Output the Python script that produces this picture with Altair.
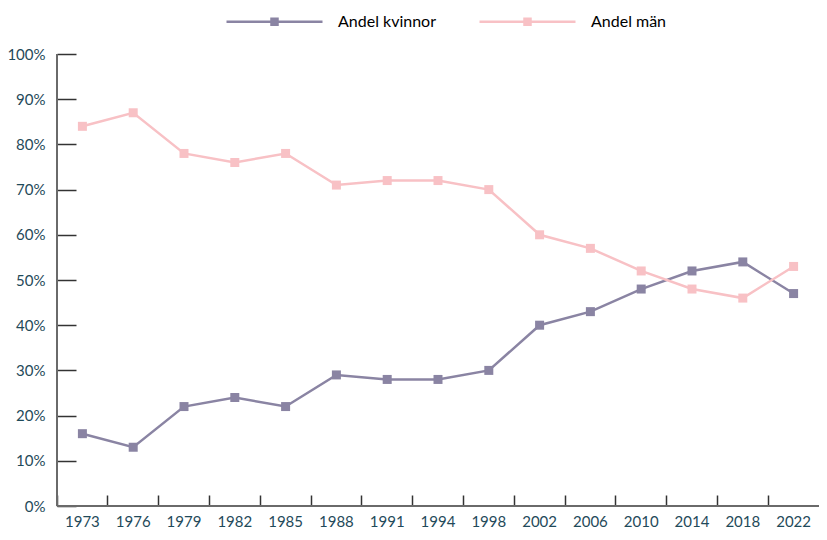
import altair as alt
import pandas as pd

years = ["1973", "1976", "1979", "1982", "1985", "1988", "1991", "1994",
         "1998", "2002", "2006", "2010", "2014", "2018", "2022"]
kvinnor = [16, 13, 22, 24, 22, 29, 28, 28, 30, 40, 43, 48, 52, 54, 47]
man = [84, 87, 78, 76, 78, 71, 72, 72, 70, 60, 57, 52, 48, 46, 53]
series_names = ["Andel kvinnor", "Andel män"]
series_colors = ["#8a84a3", "#f8c1c5"]
y_ticks = [0, 10, 20, 30, 40, 50, 60, 70, 80, 90, 100]

rows = []
for i, y in enumerate(years):
    rows.append({"year": y, "serie": series_names[0], "value": kvinnor[i]})
    rows.append({"year": y, "serie": series_names[1], "value": man[i]})
df = pd.DataFrame(rows)

W, H = 762, 452
FONT = "Lato"
LABEL_COLOR = "#1f4a5a"
AXIS_COLOR = "#6a6a6a"

x_enc = alt.X(
    "year:N",
    sort=years,
    title=None,
    bandPosition=0.5,
    scale=alt.Scale(type="band", paddingInner=0, paddingOuter=0),
    axis=alt.Axis(
        bandPosition=0,
        domain=False,
        offset=-11,
        tickSize=11,
        tickColor="#333333",
        tickWidth=1.5,
        labelPadding=8,
        labelAngle=0,
        labelFont=FONT,
        labelFontSize=15,
        labelColor=LABEL_COLOR,
        grid=False,
    ),
)
y_enc = alt.Y(
    "value:Q",
    title=None,
    scale=alt.Scale(domain=[0, 100], nice=False),
    axis=alt.Axis(
        values=y_ticks,
        labelExpr="datum.value + '%'",
        domain=False,
        offset=-19,
        tickSize=19,
        tickColor="#333333",
        tickWidth=1.5,
        labelPadding=12,
        labelFont=FONT,
        labelFontSize=15,
        labelColor=LABEL_COLOR,
        grid=False,
    ),
)

legend_symbol = "M-4.8,0H4.8M-0.3,-0.3H0.3V0.3H-0.3Z"

color_enc = alt.Color(
    "serie:N",
    sort=series_names,
    scale=alt.Scale(domain=series_names, range=series_colors),
    legend=alt.Legend(
        title=None,
        orient="none",
        direction="horizontal",
        legendX=168,
        legendY=-44,
        symbolType=legend_symbol,
        symbolSize=400,
        symbolStrokeWidth=2.5,
        symbolOffset=38,
        labelOffset=52,
        columnPadding=38,
        labelFont=FONT,
        labelFontSize=16,
        labelColor="#000000",
    ),
)

lines = alt.Chart(df).mark_line(strokeWidth=2.5).encode(
    x=x_enc, y=y_enc, color=color_enc
)
points = alt.Chart(df).mark_point(shape="square", filled=True, size=81, opacity=1).encode(
    x=x_enc, y=y_enc, color=alt.Color("serie:N", sort=series_names,
                                      scale=alt.Scale(domain=series_names, range=series_colors),
                                      legend=None)
)

base0 = pd.DataFrame({"v": [0], "top": [100]})
bottom_rule = alt.Chart(base0).mark_rule(color=AXIS_COLOR, strokeWidth=2).encode(
    y=alt.Y("v:Q", scale=alt.Scale(domain=[0, 100], nice=False)),
    x=alt.value(0), x2=alt.value(W),
)
left_rule = alt.Chart(base0).mark_rule(color=AXIS_COLOR, strokeWidth=2).encode(
    y=alt.Y("v:Q", scale=alt.Scale(domain=[0, 100], nice=False)),
    y2="top:Q",
    x=alt.value(0),
)

chart = alt.layer(bottom_rule, left_rule, lines, points).properties(
    width=W, height=H,
    autosize=alt.AutoSizeParams(type="none"),
    padding={"left": 49, "top": 46, "right": 0, "bottom": 26},
).configure_view(stroke=None)

chart.save("out.html", embed_options={"renderer": "svg", "actions": False})
